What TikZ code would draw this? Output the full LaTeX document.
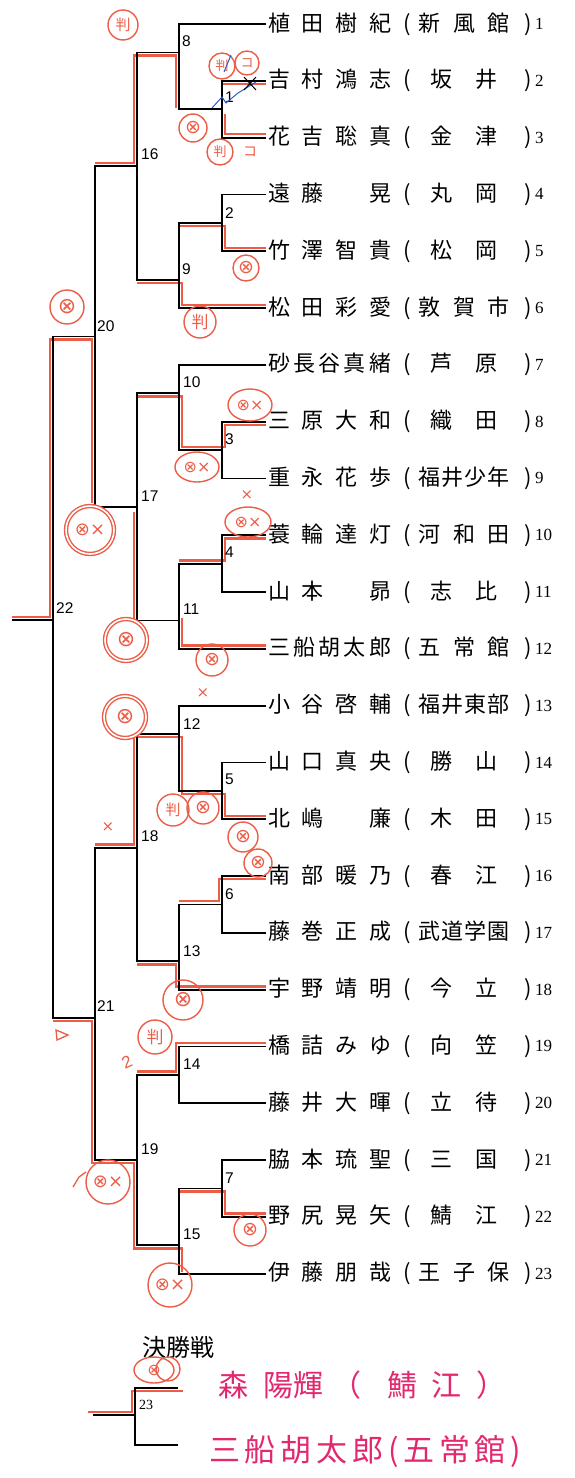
\documentclass[tikz,border=0pt]{standalone}
\usepackage{fontspec}
\setmainfont{Liberation Serif}
\newfontfamily\jp{Noto Sans CJK JP}
\newfontfamily\lab{Liberation Sans}
\newfontfamily\sym{DejaVu Sans}
\usepackage{xcolor}
\usetikzlibrary{shapes.geometric, calc}

\definecolor{redpen}{RGB}{236,92,70}
\definecolor{pinkpen}{RGB}{226,40,110}
\definecolor{bluepen}{RGB}{50,90,200}

% spread the characters of a name over a fixed width
\def\spreadi#1{\ifx\relax#1\else#1\expandafter\spreadii\fi}
\def\spreadii#1{\ifx\relax#1\else\hfill#1\expandafter\spreadii\fi}
\newcommand\pname[1]{\makebox[123pt][s]{\spreadi#1\relax}}
\newcommand\pclub[1]{\hspace{12pt}(\hspace{8pt}\makebox[91pt][s]{\spreadi#1\relax}\hspace{15pt})}
\newcommand\pclubb[2]{\hspace{12pt}(\hspace{8pt}\makebox[91pt][s]{\hfill#1\hfill\hfill#2\hfill}\hspace{15pt})}

\begin{document}
\begin{tikzpicture}[
    x=1pt, y=-1pt,
    player/.style={anchor=west, inner xsep=2pt, inner ysep=0pt, font=\jp\fontsize{22pt}{26pt}\selectfont},
    seed/.style={anchor=west, inner sep=0pt, font=\fontsize{17pt}{20pt}\selectfont},
    rnd/.style={anchor=west, inner sep=0pt, font=\lab\fontsize{15.5pt}{18pt}\selectfont},
    bline/.style={draw=black, line width=1.8pt},
    winpath/.style={draw=redpen, line width=2.8pt},
    stamp/.style={circle, draw=redpen, line width=1.4pt, inner sep=0pt, text=redpen, font=\sym\fontsize{19pt}{21pt}\selectfont},
    dstamp/.style={stamp, double=white, double distance=1.6pt},
    pen/.style={inner sep=0pt, text=redpen, font=\sym\fontsize{15pt}{17pt}\selectfont},
    hand/.style={anchor=west, inner sep=0pt, text=pinkpen, font=\jp\fontsize{30pt}{34pt}\selectfont}
]
\useasboundingbox (0,0) rectangle (574,1478);

% Players
\node[player] (p1) at (266,24) {\pname{植田樹紀}\pclub{新風館}};
\node[player] (p2) at (266,80.8) {\pname{吉村鴻志}\pclubb{坂}{井}};
\node[player] (p3) at (266,137.6) {\pname{花吉聡真}\pclubb{金}{津}};
\node[player] (p4) at (266,194.4) {\pname{遠藤　晃}\pclubb{丸}{岡}};
\node[player] (p5) at (266,251.2) {\pname{竹澤智貴}\pclubb{松}{岡}};
\node[player] (p6) at (266,308) {\pname{松田彩愛}\pclub{敦賀市}};
\node[player] (p7) at (266,364.8) {\pname{砂長谷真緒}\pclubb{芦}{原}};
\node[player] (p8) at (266,421.6) {\pname{三原大和}\pclubb{織}{田}};
\node[player] (p9) at (266,478.4) {\pname{重永花歩}\pclub{福井少年}};
\node[player] (p10) at (266,535.2) {\pname{蓑輪達灯}\pclub{河和田}};
\node[player] (p11) at (266,592) {\pname{山本　昴}\pclubb{志}{比}};
\node[player] (p12) at (266,648.8) {\pname{三船胡太郎}\pclub{五常館}};
\node[player] (p13) at (266,705.6) {\pname{小谷啓輔}\pclub{福井東部}};
\node[player] (p14) at (266,762.4) {\pname{山口真央}\pclubb{勝}{山}};
\node[player] (p15) at (266,819.2) {\pname{北嶋　廉}\pclubb{木}{田}};
\node[player] (p16) at (266,876) {\pname{南部暖乃}\pclubb{春}{江}};
\node[player] (p17) at (266,932.8) {\pname{藤巻正成}\pclub{武道学園}};
\node[player] (p18) at (266,989.6) {\pname{宇野靖明}\pclubb{今}{立}};
\node[player] (p19) at (266,1046.4) {\pname{橋詰みゆ}\pclubb{向}{笠}};
\node[player] (p20) at (266,1103.2) {\pname{藤井大暉}\pclubb{立}{待}};
\node[player] (p21) at (266,1160) {\pname{脇本琉聖}\pclubb{三}{国}};
\node[player] (p22) at (266,1216.8) {\pname{野尻晃矢}\pclubb{鯖}{江}};
\node[player] (p23) at (266,1273.6) {\pname{伊藤朋哉}\pclub{王子保}};

% Seed numbers
\node[seed] (s1) at (535,24) {1};
\node[seed] (s2) at (535,80.8) {2};
\node[seed] (s3) at (535,137.6) {3};
\node[seed] (s4) at (535,194.4) {4};
\node[seed] (s5) at (535,251.2) {5};
\node[seed] (s6) at (535,308) {6};
\node[seed] (s7) at (535,364.8) {7};
\node[seed] (s8) at (535,421.6) {8};
\node[seed] (s9) at (535,478.4) {9};
\node[seed] (s10) at (535,535.2) {10};
\node[seed] (s11) at (535,592) {11};
\node[seed] (s12) at (535,648.8) {12};
\node[seed] (s13) at (535,705.6) {13};
\node[seed] (s14) at (535,762.4) {14};
\node[seed] (s15) at (535,819.2) {15};
\node[seed] (s16) at (535,876) {16};
\node[seed] (s17) at (535,932.8) {17};
\node[seed] (s18) at (535,989.6) {18};
\node[seed] (s19) at (535,1046.4) {19};
\node[seed] (s20) at (535,1103.2) {20};
\node[seed] (s21) at (535,1160) {21};
\node[seed] (s22) at (535,1216.8) {22};
\node[seed] (s23) at (535,1273.6) {23};

% Match junctions
\coordinate (m1) at (222,109.2);
\coordinate (m2) at (222,222.8);
\coordinate (m3) at (222,450);
\coordinate (m4) at (222,563.6);
\coordinate (m5) at (222,790.8);
\coordinate (m6) at (222,904.4);
\coordinate (m7) at (222,1188.4);
\coordinate (m8) at (179,52.4);
\coordinate (m9) at (179,279.6);
\coordinate (m10) at (179,393.2);
\coordinate (m11) at (179,620.4);
\coordinate (m12) at (179,734);
\coordinate (m13) at (179,961.2);
\coordinate (m14) at (179,1074.8);
\coordinate (m15) at (179,1245.2);
\coordinate (m16) at (137,166);
\coordinate (m17) at (137,506.8);
\coordinate (m18) at (137,847.6);
\coordinate (m19) at (137,1160);
\coordinate (m20) at (95,336.4);
\coordinate (m21) at (95,1018);
\coordinate (m22) at (53,620);
\coordinate (top) at (12,620);

% Winner paths (red pen)
\draw[winpath] (223,84) -- (266,84);
\draw[winpath] (225,114) -- (225,134) -- (266,134);
\draw[winpath] (95,163) -- (134,163) -- (134,55.5) -- (176,55.5) -- (176,108);
\draw[winpath] (180,226) -- (225,226) -- (225,248) -- (266,248);
\draw[winpath] (137,283) -- (182,283) -- (182,305) -- (266,305);
\draw[winpath] (12,617) -- (50,617) -- (50,339.5) -- (92,339.5) -- (92,503);
\draw[winpath] (134,512) -- (134,620);
\draw[winpath] (182,618) -- (182,645.5) -- (266,645.5);
\draw[winpath] (137,396.5) -- (182,396.5) -- (182,447) -- (225,447) -- (225,425) -- (266,425);
\draw[winpath] (179,560.5) -- (225,560.5) -- (225,538.5) -- (266,538.5);
\draw[winpath] (137,737) -- (182,737) -- (182,794) -- (225,794) -- (225,816) -- (266,816);
\draw[winpath] (95,844.5) -- (134,844.5) -- (134,737);
\draw[winpath] (179,901) -- (219,901) -- (219,879) -- (266,879);
\draw[winpath] (137,964.5) -- (176,964.5) -- (176,986.5) -- (266,986.5);
\draw[winpath] (53,1021) -- (92,1021) -- (92,1163) -- (134,1163) -- (134,1248.5) -- (182,1248.5) -- (182,1272);
\draw[winpath] (137,1071.5) -- (176,1071.5) -- (176,1043) -- (266,1043);
\draw[winpath] (179,1191.5) -- (225,1191.5) -- (225,1213.5) -- (266,1213.5);
\draw[winpath] (88,1412) -- (132,1412) -- (132,1391) -- (183,1391);

% Bracket
\draw[bline] (p2.west) -| (m1) |- (p3.west);
\draw[bline] (p4.west) -| (m2) |- (p5.west);
\draw[bline] (p8.west) -| (m3) |- (p9.west);
\draw[bline] (p10.west) -| (m4) |- (p11.west);
\draw[bline] (p14.west) -| (m5) |- (p15.west);
\draw[bline] (p16.west) -| (m6) |- (p17.west);
\draw[bline] (p21.west) -| (m7) |- (p22.west);
\draw[bline] (p1.west) -| (m8) |- (m1);
\draw[bline] (m2) -| (m9) |- (p6.west);
\draw[bline] (p7.west) -| (m10) |- (m3);
\draw[bline] (m4) -| (m11) |- (p12.west);
\draw[bline] (p13.west) -| (m12) |- (m5);
\draw[bline] (m6) -| (m13) |- (p18.west);
\draw[bline] (p19.west) -| (m14) |- (p20.west);
\draw[bline] (m7) -| (m15) |- (p23.west);
\draw[bline] (m8) -| (m16) |- (m9);
\draw[bline] (m10) -| (m17) |- (m11);
\draw[bline] (m12) -| (m18) |- (m13);
\draw[bline] (m14) -| (m19) |- (m15);
\draw[bline] (m16) -| (m20) |- (m17);
\draw[bline] (m18) -| (m21) |- (m19);
\draw[bline] (m20) -| (m22) |- (m21);
\draw[bline] (m22) -- (top);

% Match numbers
\node[rnd] (r1) at (225,97) {1};
\node[rnd] (r2) at (225,213) {2};
\node[rnd] (r3) at (225,439) {3};
\node[rnd] (r4) at (225,552) {4};
\node[rnd] (r5) at (225,779) {5};
\node[rnd] (r6) at (225,894) {6};
\node[rnd] (r7) at (225,1178) {7};
\node[rnd] (r8) at (182,41) {8};
\node[rnd] (r9) at (182,269) {9};
\node[rnd] (r10) at (183,382) {10};
\node[rnd] (r11) at (183,609) {11};
\node[rnd] (r12) at (183,724) {12};
\node[rnd] (r13) at (183,951) {13};
\node[rnd] (r14) at (183,1064) {14};
\node[rnd] (r15) at (183,1234) {15};
\node[rnd] (r16) at (141,154) {16};
\node[rnd] (r17) at (141,496) {17};
\node[rnd] (r18) at (141,836) {18};
\node[rnd] (r19) at (141,1149) {19};
\node[rnd] (r20) at (97,326) {20};
\node[rnd] (r21) at (97,1006) {21};
\node[rnd] (r22) at (56,608) {22};

% Final
\node[font=\jp\fontsize{24pt}{28pt}\selectfont, inner sep=0pt] (final) at (178,1347) {決勝戦};
\coordinate (fa) at (178,1388);
\coordinate (fb) at (178,1445);
\coordinate (m23) at (135,1415);
\coordinate (fs) at (93,1415);
\draw[bline] (fa) -| (m23) |- (fb);
\draw[bline] (m23) -- (fs);
\node[seed, font=\fontsize{14pt}{16pt}\selectfont] (r23) at (139,1405) {23};
\node[hand] (w1) at (218,1385) {森\hspace{15pt}陽輝\hspace{8pt}（\hspace{26pt}鯖\hspace{14pt}江\hspace{15pt}）};
\node[hand, font=\jp\fontsize{31pt}{34pt}\selectfont] (w2) at (209,1451) {\makebox[312pt][s]{\spreadi 三船胡太郎(五常館)\relax}};

% Pen marks
\node[stamp, minimum size=30pt, font=\jp\fontsize{15pt}{17pt}\selectfont] (c1) at (123,25) {判};
\node[stamp, minimum size=26pt, font=\jp\fontsize{13pt}{15pt}\selectfont] (c2) at (222,66) {判};
\node[stamp, minimum size=24pt, font=\jp\fontsize{13pt}{15pt}\selectfont] (c3) at (247,63) {コ};
\node[stamp, minimum size=28pt] (c4) at (193,128) {⊗};
\node[stamp, minimum size=26pt, font=\jp\fontsize{13pt}{15pt}\selectfont] (c5) at (220,152) {判};
\node[pen, font=\jp\fontsize{14pt}{16pt}\selectfont] (c6) at (250,152) {コ};
\node[stamp, minimum size=26pt] (c7) at (246,268) {⊗};
\node[stamp, minimum size=32pt, font=\jp\fontsize{17pt}{19pt}\selectfont] (c8) at (200,322) {判};
\node[stamp, minimum size=34pt, font=\sym\fontsize{22pt}{24pt}\selectfont] (c9) at (67,307) {⊗};
\node[stamp, ellipse, minimum width=44pt, minimum height=32pt, font=\sym\fontsize{16pt}{18pt}\selectfont] (c10) at (250,405) {⊗×};
\node[stamp, ellipse, minimum width=44pt, minimum height=30pt, font=\sym\fontsize{16pt}{18pt}\selectfont] (c11) at (197,467) {⊗×};
\node[pen] (c12) at (247,495) {×};
\node[stamp, ellipse, minimum width=46pt, minimum height=30pt, font=\sym\fontsize{16pt}{18pt}\selectfont] (c13) at (248,522) {⊗×};
\node[dstamp, minimum size=48pt, font=\sym\fontsize{18pt}{20pt}\selectfont] (c14) at (90,530) {⊗×};
\node[dstamp, minimum size=42pt, font=\sym\fontsize{22pt}{24pt}\selectfont] (c15) at (126,640) {⊗};
\node[stamp, minimum size=32pt] (c16) at (212,660) {⊗};
\node[pen] (c17) at (203,693) {×};
\node[dstamp, minimum size=42pt, font=\sym\fontsize{22pt}{24pt}\selectfont] (c18) at (125,717) {⊗};
\node[pen] (c19) at (108,827) {×};
\node[stamp, minimum size=32pt, font=\jp\fontsize{15pt}{17pt}\selectfont] (c20) at (173,810) {判};
\node[stamp, minimum size=32pt] (c21) at (203,808) {⊗};
\node[stamp, minimum size=30pt] (c22) at (243,837) {⊗};
\node[stamp, minimum size=28pt] (c23) at (258,863) {⊗};
\node[stamp, minimum size=40pt, font=\sym\fontsize{22pt}{24pt}\selectfont] (c24) at (183,1000) {⊗};
\node[stamp, minimum size=34pt, font=\jp\fontsize{17pt}{19pt}\selectfont] (c25) at (155,1037) {判};
\node[pen, font=\lab\fontsize{17pt}{19pt}\selectfont, rotate=25] (c26) at (127,1062) {2};
\node[stamp, minimum size=44pt, font=\sym\fontsize{18pt}{20pt}\selectfont] (c27) at (108,1182) {⊗×};
\node[stamp, minimum size=32pt] (c28) at (250,1230) {⊗};
\node[stamp, minimum size=44pt, font=\sym\fontsize{18pt}{20pt}\selectfont] (c29) at (170,1285) {⊗×};
\node[stamp, ellipse, minimum width=40pt, minimum height=26pt, font=\sym\fontsize{16pt}{18pt}\selectfont] (c30) at (154,1370) {⊗};
\node[stamp, minimum size=24pt] (c31) at (168,1369) {};
\draw[redpen, line width=1.3pt] (56,1030) -- (68,1035) -- (57,1040) -- cycle;
\draw[redpen, line width=1.3pt] (73,1187) -- (79,1177) -- (86,1172);

% Other pens on match 1
\draw[bluepen, line width=1pt] (231,55) -- (224,72);
\draw[bluepen, line width=1pt] (212,108) -- (222,97) -- (226,103) -- (238,93) -- (256,82);
\draw[black, line width=1pt] (244,77) -- (256,90) (244,90) -- (256,77);

\end{tikzpicture}
\end{document}
